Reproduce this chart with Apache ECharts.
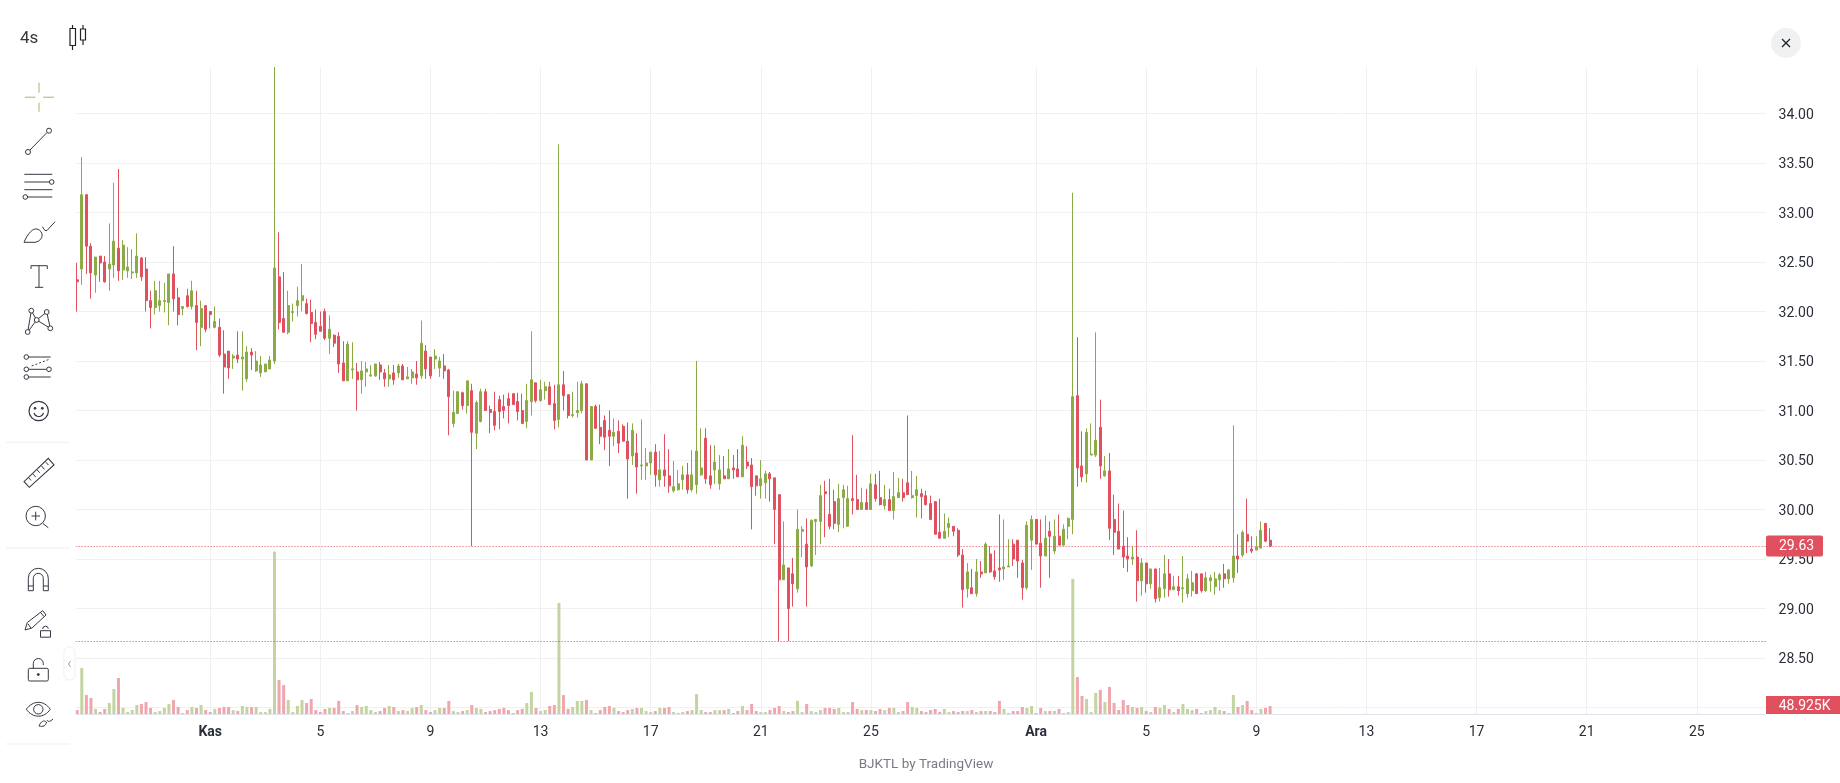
<!DOCTYPE html>
<html><head><meta charset="utf-8">
<style>html,body{margin:0;padding:0;background:#fff}#c{width:1840px;height:783px}</style>
<script src="https://cdn.jsdelivr.net/npm/echarts@6/dist/echarts.min.js"></script>
</head><body><div id="c"></div>
<script>
// each candle: [open, close, low, high]
const candles = [
[32.32,32.30,32.00,32.49],[32.43,33.18,32.27,33.56],[33.18,32.66,32.38,33.18],[32.66,32.39,32.13,32.69],[32.37,32.55,32.19,32.55],
[32.56,32.49,32.30,32.56],[32.50,32.30,32.29,32.56],[32.43,32.48,32.21,32.89],[32.47,32.71,32.34,33.30],[32.64,32.41,32.31,33.44],
[32.42,32.67,32.32,32.72],[32.41,32.45,32.34,32.65],[32.39,32.40,32.33,32.63],[32.39,32.56,32.34,32.79],[32.54,32.35,32.31,32.55],
[32.43,32.11,32.00,32.55],[32.11,32.04,31.83,32.21],[32.04,32.21,31.97,32.31],[32.06,32.11,32.00,32.31],[32.10,32.11,31.99,32.29],
[32.09,32.38,31.86,32.38],[32.38,32.13,32.00,32.66],[32.14,31.97,31.86,32.24],[32.03,32.05,31.96,32.05],[32.16,32.05,32.04,32.23],
[32.05,32.21,32.02,32.31],[32.06,31.89,31.61,32.21],[31.84,32.03,31.65,32.11],[32.06,31.82,31.79,32.06],[32.00,31.97,31.83,32.00],
[31.84,31.90,31.83,32.05],[31.84,31.56,31.54,31.93],[31.57,31.44,31.17,31.81],[31.60,31.43,31.32,31.60],[31.53,31.55,31.42,31.57],
[31.56,31.52,31.48,31.80],[31.52,31.54,31.20,31.80],[31.32,31.59,31.29,31.65],[31.59,31.56,31.41,31.63],[31.40,31.50,31.39,31.60],
[31.38,31.46,31.34,31.55],[31.39,31.47,31.39,31.47],[31.42,31.51,31.42,31.55],[31.50,32.44,31.47,34.47],[32.35,31.89,31.82,32.80],
[31.93,31.79,31.79,32.40],[31.79,32.06,31.77,32.21],[31.99,32.00,31.90,32.08],[32.06,32.11,31.95,32.25],[32.11,32.16,32.00,32.48],
[32.08,31.98,31.97,32.13],[31.99,31.88,31.69,32.12],[31.89,31.77,31.72,32.02],[31.85,31.80,31.80,32.00],[32.00,31.73,31.71,32.03],
[31.73,31.82,31.57,31.96],[31.76,31.68,31.64,31.77],[31.75,31.47,31.38,31.79],[31.48,31.30,31.30,31.70],[31.30,31.67,31.30,31.70],
[31.41,31.42,31.32,31.69],[31.39,31.31,31.00,31.48],[31.31,31.40,31.17,31.50],[31.39,31.42,31.24,31.49],[31.35,31.36,31.34,31.46],
[31.35,31.47,31.34,31.47],[31.46,31.39,31.31,31.49],[31.38,31.32,31.24,31.42],[31.32,31.36,31.24,31.46],[31.38,31.31,31.26,31.46],
[31.38,31.45,31.33,31.47],[31.45,31.31,31.31,31.47],[31.32,31.34,31.32,31.44],[31.33,31.39,31.27,31.42],[31.37,31.33,31.26,31.50],
[31.35,31.68,31.32,31.91],[31.60,31.42,31.32,31.66],[31.54,31.35,31.32,31.54],[31.52,31.55,31.42,31.62],[31.43,31.50,31.34,31.54],
[31.45,31.40,31.32,31.57],[31.41,31.14,30.75,31.42],[30.87,30.98,30.83,31.20],[30.97,31.19,30.97,31.19],[31.18,31.05,31.01,31.19],
[31.05,31.30,30.97,31.30],[31.20,30.78,29.63,31.27],[30.77,31.08,30.61,31.10],[30.89,31.19,30.88,31.22],[31.19,31.00,31.00,31.22],
[31.01,30.98,30.77,31.05],[30.99,30.85,30.80,31.19],[31.11,30.99,30.81,31.15],[31.04,31.00,30.92,31.16],[31.12,31.05,30.87,31.18],
[31.17,31.06,31.06,31.17],[31.09,30.99,30.90,31.18],[31.00,30.87,30.87,31.17],[30.89,31.10,30.82,31.27],[31.09,31.31,30.95,31.80],
[31.28,31.10,31.08,31.28],[31.10,31.21,31.09,31.31],[31.20,31.24,31.11,31.29],[31.24,31.06,31.06,31.29],[31.07,30.90,30.81,31.26],
[30.91,31.26,30.83,33.69],[31.26,31.15,31.00,31.40],[31.16,30.95,30.92,31.16],[30.95,30.96,30.93,31.19],[30.98,31.00,30.93,31.29],
[31.00,31.27,30.97,31.30],[31.27,30.50,30.50,31.27],[30.50,31.04,30.50,31.04],[31.04,30.82,30.82,31.06],[30.83,30.74,30.66,31.06],
[30.90,30.73,30.60,30.95],[30.80,30.74,30.44,31.00],[30.74,30.78,30.64,30.92],[30.79,30.67,30.57,30.90],[30.84,30.69,30.69,30.86],
[30.69,30.51,30.11,30.88],[30.54,30.80,30.45,30.87],[30.57,30.43,30.16,30.77],[30.44,30.45,30.30,30.91],[30.44,30.47,30.30,30.62],
[30.47,30.58,30.35,30.58],[30.58,30.35,30.23,30.66],[30.30,30.40,30.23,30.59],[30.40,30.34,30.23,30.76],[30.34,30.24,30.17,30.61],
[30.19,30.23,30.17,30.49],[30.20,30.26,30.19,30.40],[30.30,30.35,30.20,30.44],[30.35,30.20,30.16,30.47],[30.20,30.35,30.18,30.60],
[30.25,30.59,30.16,31.50],[30.35,30.42,30.34,30.82],[30.72,30.31,30.26,30.82],[30.34,30.25,30.21,30.65],[30.40,30.48,30.26,30.65],
[30.26,30.40,30.20,30.55],[30.34,30.31,30.31,30.54],[30.31,30.41,30.31,30.61],[30.42,30.40,30.31,30.55],[30.41,30.33,30.33,30.61],
[30.33,30.65,30.33,30.74],[30.48,30.44,30.41,30.64],[30.45,30.23,29.80,30.52],[30.34,30.24,30.14,30.34],[30.24,30.31,30.11,30.50],
[30.27,30.36,30.11,30.39],[30.36,30.31,30.08,30.38],[30.32,30.00,29.65,30.32],[30.15,29.29,28.67,30.15],[29.29,29.44,29.29,29.88],
[29.41,29.00,28.67,29.41],[29.35,29.25,29.02,29.51],[29.20,29.80,29.16,30.00],[29.78,29.80,29.52,29.83],[29.65,29.42,29.02,29.91],
[29.43,29.89,29.42,29.90],[29.88,29.90,29.54,29.90],[29.88,30.14,29.65,30.25],[30.18,30.16,29.72,30.29],[29.95,29.83,29.80,30.31],
[30.08,29.86,29.80,30.20],[29.85,30.11,29.77,30.26],[30.12,30.20,29.81,30.25],[29.83,30.11,29.83,30.24],[30.11,30.09,29.95,30.75],
[30.10,30.00,30.00,30.35],[30.00,30.07,30.00,30.22],[30.07,30.00,30.00,30.21],[30.00,30.26,30.00,30.36],[30.25,30.11,30.08,30.36],
[30.12,30.05,30.04,30.39],[30.04,30.10,30.00,30.25],[30.10,29.99,29.99,30.21],[29.99,30.13,29.90,30.38],[30.12,30.17,30.12,30.32],
[30.17,30.12,30.08,30.31],[30.27,30.15,30.15,30.95],[30.12,30.14,30.11,30.39],[30.14,30.20,29.92,30.34],[30.16,30.13,29.91,30.21],
[30.14,30.05,30.04,30.19],[30.06,29.90,29.90,30.14],[30.08,29.75,29.75,30.08],[29.77,29.71,29.71,30.11],[29.71,29.78,29.71,29.96],
[29.82,29.86,29.72,29.92],[29.83,29.78,29.73,29.83],[29.79,29.54,29.52,29.81],[29.54,29.19,29.01,29.60],[29.20,29.37,29.11,29.46],
[29.21,29.15,29.15,29.40],[29.15,29.37,29.12,29.50],[29.37,29.35,29.31,29.48],[29.36,29.65,29.36,29.67],[29.55,29.37,29.36,29.63],
[29.38,29.32,29.29,29.59],[29.41,29.39,29.27,29.95],[29.40,29.42,29.29,29.90],[29.42,29.43,29.42,29.70],[29.65,29.50,29.43,29.70],
[29.69,29.48,29.31,29.69],[29.46,29.21,29.09,29.49],[29.21,29.84,29.19,29.88],[29.69,29.90,29.39,29.94],[29.90,29.65,29.65,29.90],
[29.66,29.53,29.21,29.90],[29.53,29.71,29.53,29.94],[29.78,29.73,29.31,29.88],[29.58,29.73,29.55,29.90],[29.73,29.64,29.64,29.95],
[29.64,29.80,29.64,29.85],[29.83,29.91,29.70,29.92],[29.90,31.14,29.75,33.20],[31.15,30.42,30.23,31.74],[30.44,30.33,30.28,30.79],
[30.36,30.78,30.27,30.82],[30.55,30.56,30.55,30.87],[30.55,30.70,30.53,31.79],[30.83,30.44,30.31,31.11],[30.34,30.39,30.33,30.54],
[30.39,29.81,29.69,30.57],[29.90,29.77,29.54,30.15],[29.78,29.60,29.60,30.06],[29.63,29.52,29.41,29.99],[29.53,29.50,29.37,29.72],
[29.50,29.52,29.44,29.63],[29.52,29.28,29.07,29.79],[29.28,29.46,29.13,29.51],[29.46,29.25,29.16,29.46],[29.25,29.40,29.20,29.40],
[29.40,29.10,29.06,29.40],[29.11,29.21,29.07,29.41],[29.20,29.35,29.11,29.54],[29.35,29.19,29.12,29.50],[29.19,29.22,29.19,29.33],
[29.22,29.18,29.13,29.33],[29.20,29.21,29.06,29.53],[29.15,29.30,29.11,29.35],[29.18,29.26,29.12,29.38],[29.35,29.15,29.15,29.36],
[29.35,29.18,29.16,29.35],[29.18,29.31,29.17,29.37],[29.28,29.31,29.17,29.34],[29.22,29.30,29.14,29.37],[29.29,29.34,29.18,29.36],
[29.35,29.30,29.21,29.45],[29.30,29.39,29.25,29.40],[29.31,29.53,29.26,30.85],[29.53,29.50,29.36,29.75],[29.54,29.77,29.52,29.79],
[29.75,29.68,29.56,30.11],[29.60,29.58,29.56,29.73],[29.59,29.62,29.59,29.73],[29.61,29.79,29.61,29.88],[29.86,29.68,29.67,29.86],
[29.69,29.63,29.62,29.81]
];
// volume, thousands
const volumes = [
24,282,116,98,31,12,31,67,153,220, 37,12,24,55,61,73,37,12,18,37,
61,86,43,6,24,43,37,55,24,12, 31,37,43,43,24,18,49,43,43,43,
12,12,31,993,208,177,86,12,49,86, 67,92,24,12,31,37,37,80,18,6,
18,55,43,49,24,12,18,37,49,43, 18,24,18,37,43,55,24,12,24,37,
37,80,18,12,18,24,55,37,31,12, 18,24,31,37,24,6,24,31,67,135,
37,18,24,49,55,679,116,31,43,80, 80,86,24,6,24,43,49,37,18,12,
24,31,37,37,18,12,18,37,37,43, 12,6,12,18,24,122,24,12,12,24,
24,24,31,6,18,49,24,61,18,12, 12,24,37,49,18,12,18,80,12,61,
18,12,24,37,37,31,37,12,12,73, 31,24,24,24,18,31,24,37,37,12,
18,73,43,37,18,12,24,31,12,31, 12,18,12,18,18,24,12,18,18,18,
12,80,31,6,18,18,43,37,49,6, 37,18,18,18,31,6,12,826,226,110,
92,12,129,147,73,165,67,24,86,55, 43,37,43,18,12,43,37,55,31,12,
31,61,31,24,31,6,18,24,43,24, 18,6,116,43,55,80,24,6,31,37,48.925
];
const tickBars = [30,54,78,102,126,150,174,210,234,258,282,306,330,354];
const tickTexts = ['Kas','5','9','13','17','21','25','Ara','5','9','13','17','21','25'];
const barSlots = 370;
const priceTicks = {min:28, max:34.47, step:0.5};
const lastPrice = 29.63, lowestPrice = 28.67, lastVolume = 48.925;
const volumeMax = 3956;

const UP='#8aab45', DOWN='#e0505f', UPV='#c3d4a1', DOWNV='#efa6ad', INK='#2a2e39';
const categories = Array.from({length:barSlots},(_,i)=>{const k=tickBars.indexOf(i);return k>=0?tickTexts[k]:'b'+i;});
const isTick = i=>tickBars.indexOf(i)>=0;

const chart = echarts.init(document.getElementById('c'),null,{renderer:'canvas'});
const G={left:72.6,width:1693};
chart.setOption({
  animation:false,
  textStyle:{fontFamily:'Roboto'},
  grid:[{...G,top:67,height:640.5},{...G,top:67,height:647}],
  xAxis:[
    {type:'category',gridIndex:0,data:categories,boundaryGap:false,show:false},
    {type:'category',gridIndex:1,data:categories,boundaryGap:false,
     axisLine:{lineStyle:{color:'#e0e3eb',width:1}},axisTick:{show:false},
     axisLabel:{interval:(i)=>isTick(i),margin:11,color:INK,fontSize:14,fontFamily:'Roboto',
       formatter:(v)=>(v==='Kas'||v==='Ara')?'{b|'+v+'}':v,
       rich:{b:{fontWeight:'bold',fontSize:14,color:INK,fontFamily:'Roboto'}}},
     splitLine:{show:true,interval:(i)=>isTick(i),lineStyle:{color:'#f0f0f3',width:1}}}
  ],
  yAxis:[
    {type:'value',gridIndex:0,position:'right',min:priceTicks.min,max:priceTicks.max,interval:priceTicks.step,
     axisLine:{show:false},axisTick:{show:false},
     axisLabel:{showMaxLabel:false,margin:13,color:INK,fontSize:14,fontFamily:'Roboto',
       formatter:(v)=>'{v|'+v.toFixed(2)+'}',
       rich:{v:{padding:[3,0,0,0],fontSize:14,color:INK,fontFamily:'Roboto'}}},
     splitLine:{show:true,showMaxLine:false,lineStyle:{color:'#f0f0f3',width:1}}},
    {type:'value',gridIndex:1,min:0,max:volumeMax,show:false,splitLine:{show:false}}
  ],
  series:[
    {type:'bar',xAxisIndex:1,yAxisIndex:1,barWidth:3,silent:true,
     data:['-'].concat(volumes.map((v,i)=>({value:v,itemStyle:{color:candles[i][1]>=candles[i][0]?UPV:DOWNV}})))},
    {type:'candlestick',xAxisIndex:0,yAxisIndex:0,barWidth:2.5,z:3,silent:true,
     itemStyle:{color:UP,color0:DOWN,borderColor:UP,borderColor0:DOWN,borderWidth:1},
     data:[['-','-','-','-']].concat(candles),
     markLine:{silent:true,symbol:'none',label:{show:false},animation:false,
       data:[{yAxis:lastPrice,lineStyle:{color:DOWN,type:[1,2],width:1}},
             {yAxis:lowestPrice,lineStyle:{color:'#6a6d78',type:[1,2],width:1}}]}}
  ]
});

// chrome
const ink='#333842', Z=100;
const st=(o)=>Object.assign({stroke:ink,lineWidth:1,fill:null},o||{});
const line=(x1,y1,x2,y2,o)=>({type:'line',z:Z,silent:true,shape:{x1,y1,x2,y2},style:st(o)});
const poly=(points,o)=>({type:'polyline',z:Z,silent:true,shape:{points},style:st(o)});
const gon=(points,o)=>({type:'polygon',z:Z,silent:true,shape:{points},style:st(Object.assign({fill:'#fff'},o||{}))});
const circ=(cx,cy,r,o)=>({type:'circle',z:Z,silent:true,shape:{cx,cy,r},style:st(Object.assign({fill:'#fff'},o||{}))});
const arc=(cx,cy,r,a,b,o)=>({type:'arc',z:Z,silent:true,shape:{cx,cy,r,startAngle:a,endAngle:b,clockwise:true},style:st(o)});
const bez=(x1,y1,cpx1,cpy1,cpx2,cpy2,x2,y2,o)=>({type:'bezierCurve',z:Z,silent:true,shape:{x1,y1,x2,y2,cpx1,cpy1,cpx2,cpy2},style:st(o)});
const box=(x,y,width,height,o,r)=>({type:'rect',z:Z,silent:true,shape:{x,y,width,height,r:r||0},style:st(o)});
const txt=(x,y,t,o)=>({type:'text',z:Z+2,silent:true,x,y,style:Object.assign({text:t,fill:INK,font:'14px Roboto',textAlign:'left',textVerticalAlign:'middle'},o||{})});

const els=[
  {type:'rect',z:Z-1,silent:true,shape:{x:0,y:60,width:75.5,height:660},style:{fill:'#fff'}},
  txt(20,39,'4s',{font:'17px Roboto',fill:'#3a3636'}),
  line(72.5,25,72.5,50,{stroke:'#222',lineWidth:1.2}), box(70,28.5,5.5,17,{stroke:'#222',fill:'#fff',lineWidth:1.2}),
  line(83,25,83,45,{stroke:'#222',lineWidth:1.2}), box(80.5,29,5,11,{stroke:'#222',fill:'#fff',lineWidth:1.2}),
  // crosshair
  ...[[24.7,97.3,35.3,97.3],[43.3,97.3,54,97.3],[39,82.7,39,92.7],[39,102.7,39,111.7]].map(a=>line(a[0],a[1],a[2],a[3],{stroke:'#bdd09a',lineWidth:1.5})),
  // trend line
  line(30,150,47,132.5), circ(49,130.7,2.5), circ(28,152,2.5),
  // fib
  line(24.3,174.3,52.3,174.3), line(24.3,182,49.5,182), circ(51.7,182,2.3),
  line(24.3,189.7,52.3,189.7), line(27.7,197,52.3,197), circ(25.3,197,2.3),
  // brush
  bez(24,242.3,28,233,33,228,37,229), bez(37,229,44,231,44,240,36,242), line(36,242.3,24,242.3),
  poly([[42.3,226.7],[45,230.5],[47,230.5],[55,221.7]]),
  // T
  line(31,265.7,47.3,265.7), line(39,265.7,39,287.3), line(35,287.3,43.3,287.3), line(31,265.7,31,269), line(47.3,265.7,47.3,269),
  // pattern
  poly([[31.3,310.7],[27.7,332],[36.7,320],[31.3,310.7]]), poly([[36.7,320],[46.7,312],[50.3,328.3],[36.7,320]]),
  circ(31.3,310.7,2.4), circ(46.7,312,2.4), circ(36.7,320,2.4), circ(27.7,332,2.4), circ(50.3,328.3,2.4),
  // channel
  line(28,357,50.7,357), line(28,369.3,47,369.3), line(28,377,50.7,377), line(31.7,366,50,359,{lineDash:[2,2]}),
  circ(26.3,357,2.3), circ(26.3,369.3,2.3), circ(49,369.3,2.3), circ(26.3,377,2.3),
  // smiley
  circ(38.7,411,9.7,{lineWidth:1.2}), circ(35,408.3,1,{fill:ink}), circ(42.3,408.3,1,{fill:ink}),
  arc(38.7,411.5,5,0.3,Math.PI-0.3,{lineWidth:1.2}),
  // separators
  line(6,442.3,70,442.3,{stroke:'#efefef'}), line(6,548,70,548,{stroke:'#efefef'}), line(6,744,70,744,{stroke:'#efefef'}),
  // ruler
  gon([[24,481.7],[29.3,487.3],[54,465],[48.3,458.3]],{lineWidth:1.1}),
  line(28.5,477.6,31,480.4), line(32.8,473.8,35.8,477.2), line(37.2,469.9,39.7,472.8), line(41.6,466,44.5,469.4), line(45.9,462.2,48.4,465),
  // zoom
  circ(35.7,516,9.7,{fill:null}), line(31.5,516,40,516), line(35.7,511.7,35.7,520.3), line(42.7,523.3,48.3,527.7),
  // magnet
  arc(38.3,578.3,10,Math.PI,0,{}), arc(38.3,578.3,5,Math.PI,0,{}),
  line(28.3,578.3,28.3,590.7), line(33.3,578.3,33.3,590.7), line(43.3,578.3,43.3,590.7), line(48.3,578.3,48.3,590.7),
  line(28.3,590.7,33.3,590.7), line(43.3,590.7,48.3,590.7), line(28.3,586,33.3,586), line(43.3,586,48.3,586),
  // pencil + lock
  gon([[25,630],[27.3,622.5],[42.7,610.7],[46,615],[32,628]]), line(28,624,31,628), line(40.5,612.5,44,616.5),
  box(40.5,630.7,10,6.5,{fill:'#fff'}), arc(45.5,629,2.8,Math.PI,-0.1,{}),
  // open lock
  box(28.3,668.3,20,12.7,{},1.5), circ(38.3,674.5,1,{fill:ink}),
  poly([[33.3,668.3],[33.3,663.5]]), arc(38.3,663.5,5,Math.PI,0,{}), line(43.3,663.5,43.3,665),
  // eye
  bez(26.3,709.3,33,700,44,700,50.3,709.3), bez(26.3,709.3,33,718.5,44,718.5,50.3,709.3), circ(38.3,709.3,4.7,{fill:null}),
  bez(39,726,41,721,44,720,46.5,722), bez(46.5,722,46,726,43,727,39,726), bez(47,720,48,722,50,722,53,719),
  // collapse handle
  box(64,647,11,33,{stroke:'#f1f1f3',fill:'#fff'},5),
  poly([[70.5,661],[68.5,664],[70.5,667]],{stroke:'#8a9bb0'}),
  // close
  circ(1786,43,15,{fill:'#f0f1f3',stroke:null}), line(1782,39,1790,47,{stroke:'#222',lineWidth:1.2}), line(1790,39,1782,47,{stroke:'#222',lineWidth:1.2}),
  // credit
  txt(926,765,'BJKTL by TradingView',{font:'13.5px Roboto',fill:'#787b86',textAlign:'center'})
];
// value tags, placed through the axis scales
const yPrice=chart.convertToPixel({yAxisIndex:0},lastPrice);
const yVol=chart.convertToPixel({yAxisIndex:1},lastVolume);
els.push(box(1766,Math.round(yPrice)-10.5,57,21,{fill:DOWN,stroke:null},2));
els.push(txt(1779,yPrice+0.5,lastPrice.toFixed(2),{fill:'#fff'}));
els.push(box(1766,yVol-10,74,714-yVol+10,{fill:DOWN,stroke:null}));
els.push(txt(1778.7,yVol+1,'48.925K',{fill:'#fff'}));
chart.setOption({graphic:{elements:els}});
</script></body></html>
